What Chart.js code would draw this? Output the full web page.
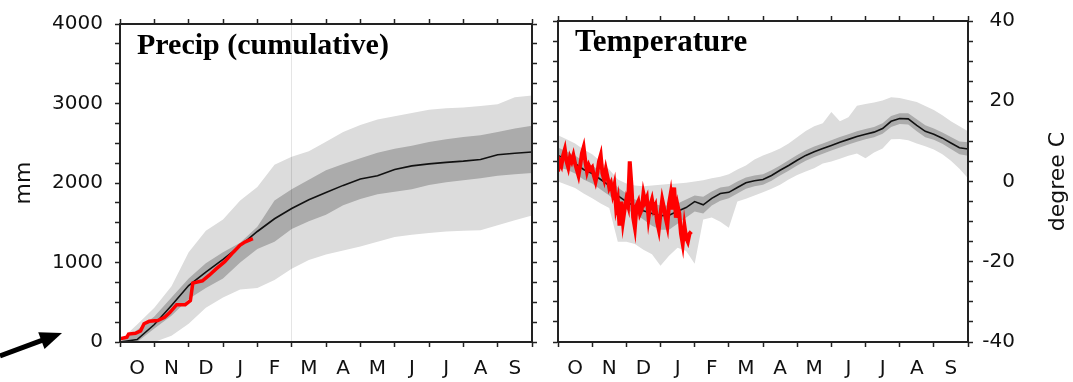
<!DOCTYPE html>
<html>
<head>
<meta charset="utf-8">
<script src="https://cdn.jsdelivr.net/npm/chart.js@4.4.1/dist/chart.umd.min.js"></script>
<style>
  html, body { margin: 0; padding: 0; background: #fff; }
  #wrap { position: relative; width: 1073px; height: 382px; }
  #box1 { position: absolute; left: 0; top: 0; }
  #box2 { position: absolute; left: 545px; top: 0; }
</style>
</head>
<body>
<div id="wrap">
  <div id="box1"><canvas id="chart1" width="545" height="382"></canvas></div>
  <div id="box2"><canvas id="chart2" width="528" height="382"></canvas></div>
</div>
<script>
// water year, months counted from 1 Oct (0) to 30 Sep (12)
const monthLabels = ['O', 'N', 'D', 'J', 'F', 'M', 'A', 'M', 'J', 'J', 'A', 'S'];
const monthTicks = [0, 0.5, 1, 1.5, 2, 2.5, 3, 3.5, 4, 4.5, 5, 5.5, 6, 6.5, 7, 7.5, 8, 8.5, 9, 9.5, 10, 10.5, 11, 11.5, 12];

// ---- precip (cumulative, mm) ----
const precipMonths = [0, 0.5, 1, 1.5, 2, 2.5, 3, 3.5, 4, 4.5, 5, 5.5, 6, 6.5, 7, 7.5, 8, 8.5, 9, 9.5, 10, 10.5, 11, 11.5, 12];
const precipLightUpper = [20, 220, 430, 700, 1130, 1400, 1540, 1780, 1950, 2230, 2330, 2400, 2520, 2640, 2730, 2800, 2840, 2880, 2920, 2940, 2950, 2970, 2990, 3080, 3100];
const precipDarkUpper = [0, 150, 320, 560, 800, 990, 1130, 1250, 1450, 1780, 1920, 2040, 2160, 2240, 2310, 2380, 2430, 2470, 2515, 2550, 2580, 2600, 2640, 2685, 2720];
const precipMean = [0, 30, 220, 460, 710, 880, 1040, 1210, 1390, 1550, 1680, 1790, 1880, 1970, 2050, 2090, 2170, 2215, 2240, 2260, 2275, 2295, 2355, 2375, 2390];
const precipDarkLower = [0, 0, 170, 330, 540, 680, 800, 1000, 1170, 1260, 1420, 1520, 1600, 1720, 1800, 1860, 1890, 1920, 1975, 2010, 2035, 2060, 2090, 2110, 2125];
const precipLightLower = [0, 0, 0, 80, 230, 430, 560, 660, 680, 780, 920, 1030, 1100, 1150, 1200, 1260, 1320, 1350, 1370, 1390, 1400, 1405, 1470, 1530, 1590];
const obsPrecipMonths = [0, 0.2, 0.25, 0.45, 0.6, 0.7, 0.85, 1.1, 1.3, 1.45, 1.65, 1.9, 2.05, 2.12, 2.4, 2.6, 2.8, 3.05, 3.3, 3.5, 3.65, 3.87];
const obsPrecip = [40, 60, 100, 110, 140, 230, 260, 270, 310, 370, 470, 470, 520, 740, 770, 840, 920, 1010, 1130, 1220, 1260, 1300];

// ---- temperature (degree C) ----
const tempMonths = [0, 0.25, 0.5, 0.75, 1, 1.25, 1.5, 1.75, 2, 2.25, 2.5, 2.75, 3, 3.25, 3.5, 3.75, 4, 4.25, 4.5, 4.75, 5, 5.25, 5.5, 5.75, 6, 6.25, 6.5, 6.75, 7, 7.25, 7.5, 7.75, 8, 8.25, 8.5, 8.75, 9, 9.25, 9.5, 9.75, 10, 10.25, 10.5, 10.75, 11, 11.25, 11.5, 11.75, 12];
const tempLightUpper = [11.5, 10.5, 9.5, 8.0, 6.8, 5.0, 3.0, 0.5, -0.5, -1.0, -1.2, -1.0, -0.8, -0.6, -0.5, -0.3, 0, 0.3, 0.8, 1.2, 1.8, 3.0, 4.0, 5.5, 6.5, 7.3, 8.2, 9.5, 11.0, 12.6, 13.8, 14.5, 17.3, 15.0, 16.0, 18.9, 19.3, 19.7, 20.2, 21.0, 20.8, 20.3, 19.8, 18.8, 17.8, 16.5, 15.0, 13.8, 12.5];
const tempDarkUpper = [8.5, 7.5, 6.5, 5.0, 4.0, 2.5, 1.0, -1.5, -3.0, -4.5, -5.0, -5.5, -6.0, -6.0, -5.5, -4.5, -3.5, -3.8, -2.5, -1.5, -1.2, 0, 1.0, 1.5, 1.8, 2.8, 4.0, 5.3, 6.6, 7.8, 8.7, 9.5, 10.3, 11.1, 11.8, 12.5, 13.1, 13.6, 14.5, 16.3, 17.0, 17.0, 15.5, 14.0, 13.2, 12.2, 11.1, 10.0, 9.8];
const tempMean = [6.5, 5.5, 4.5, 3.0, 2.0, 0.5, -1.0, -3.5, -5.0, -6.2, -7.3, -8.0, -8.5, -8.4, -7.4, -6.5, -5.0, -5.8, -4.2, -3.0, -2.7, -1.5, -0.3, 0.2, 0.5, 1.5, 2.8, 4.0, 5.3, 6.5, 7.4, 8.2, 9.0, 9.8, 10.5, 11.2, 11.8, 12.3, 13.2, 15.0, 15.7, 15.6, 14.0, 12.5, 11.8, 10.8, 9.6, 8.4, 8.1];
const tempDarkLower = [3.5, 3.0, 2.0, 0.5, -0.5, -2.0, -3.5, -5.5, -7.0, -8.0, -9.5, -11.0, -12.0, -12.0, -10.5, -9.0, -7.5, -8.0, -6.0, -4.8, -4.2, -3.0, -1.8, -1.2, -0.8, 0.2, 1.5, 2.7, 4.0, 5.2, 6.1, 6.9, 7.7, 8.5, 9.2, 9.9, 10.5, 11.0, 11.9, 13.6, 14.3, 14.2, 12.5, 11.0, 10.4, 9.4, 8.1, 6.8, 6.4];
const tempLightLower = [0, -0.8, -1.6, -3.0, -4.2, -5.5, -6.6, -15.0, -15.0, -15.6, -17.0, -18.1, -21.0, -18.5, -16.5, -17.3, -20.5, -9.5, -9.0, -10.0, -11.5, -5.0, -4.3, -3.5, -2.7, -1.8, -0.8, 0.5, 1.6, 2.5, 3.3, 4.5, 5.0, 5.7, 6.4, 7.0, 5.8, 7.2, 8.2, 10.5, 10.6, 10.3, 9.5, 8.8, 8.0, 6.8, 5.2, 3.2, 0.8];
// observed this year, one value every 0.05 month (about 1.5 days)
const obsTemp = [2.5, 5.0, 4.0, 6.5, 8.0, 5.0, 3.5, 6.0, 5.0, 6.5,
  4.5, 3.0, 1.5, 4.0, 7.0, 8.5, 5.0, 2.5, 4.0, 3.0,
  3.5, 1.5, 0.0, 2.0, 5.0, 6.5, 2.0, 0.5, 3.0, 1.0,
  -1.5, -0.5, -3.0, -1.0, -6.5, -4.5, -11.0, -5.0, -10.0, -7.0,
  -4.5, -6.0, 5.0, -1.0, -9.0, -11.5, -6.0, -5.0, -8.0, -7.0,
  -3.0, -5.0, -4.0, -9.0, -6.0, -4.5, -7.0, -6.0, -10.0, -12.0,
  -8.0, -4.5, -6.5, -9.0, -11.0, -5.5, -3.0, -7.0, -1.5, -9.0,
  -6.0, -8.0, -13.0, -15.5, -11.0, -14.0, -15.0, -13.0, -12.5];
const obsTempMonths = obsTemp.map((_, i) => i * 0.05);

const lightGrey = '#dcdcdc';
const darkGrey = '#ababab';
const frameColor = '#222';
const textColor = '#111';
const sans = "'DejaVu Sans', sans-serif";

function pts(xs, ys) {
  return xs.map((x, i) => ({ x: x, y: ys[i] }));
}

function band(xs, ys, color, order, fill) {
  return {
    data: pts(xs, ys),
    borderWidth: 0,
    pointRadius: 0,
    backgroundColor: color,
    fill: fill ? '+1' : false,
    order: order,
  };
}

function line(xs, ys, color, width, order) {
  return {
    data: pts(xs, ys),
    borderColor: color,
    borderWidth: width,
    pointRadius: 0,
    fill: false,
    order: order,
  };
}

const tickColorFn = ctx => (Number.isInteger(ctx.tick.value) ? frameColor : 'rgba(0,0,0,0)');

function monthAxis(position, showLabels, markMonth) {
  return {
    type: 'linear',
    position: position,
    min: 0,
    max: 12,
    afterBuildTicks: scale => {
      scale.ticks = monthTicks.map(v => ({ value: v }));
    },
    afterFit: scale => {
      scale.height = showLabels ? 40 : 5;
    },
    border: { display: true, color: frameColor, width: 2, z: 2 },
    grid: {
      drawOnChartArea: markMonth !== undefined,
      color: ctx => (ctx.tick.value === markMonth ? 'rgba(0,0,0,0.1)' : 'rgba(0,0,0,0)'),
      borderDash: [2, 3],
      dash: [2, 3],
      lineWidth: 1,
      z: 1,
      tickLength: 5,
      tickWidth: 1.5,
      tickColor: tickColorFn,
    },
    ticks: {
      display: showLabels,
      autoSkip: false,
      maxRotation: 0,
      padding: 10,
      color: textColor,
      font: { family: sans, size: 20 },
      callback: v => (v % 1 === 0.5 ? monthLabels[Math.floor(v)] : ''),
    },
  };
}

function valueAxis(position, min, max, step, major, width, labels, padding) {
  return {
    type: 'linear',
    position: position,
    min: min,
    max: max,
    afterFit: scale => {
      scale.width = width;
    },
    border: { display: true, color: frameColor, width: 2, z: 2 },
    grid: { drawOnChartArea: false, tickLength: 5, tickWidth: 1.5, tickColor: frameColor },
    ticks: {
      display: labels,
      stepSize: step,
      autoSkip: false,
      padding: padding,
      crossAlign: position === 'right' ? 'far' : 'near',
      color: textColor,
      font: { family: sans, size: 20 },
      callback: v => (v % major === 0 ? String(v) : ''),
    },
  };
}

const panelText = {
  id: 'panelText',
  afterDraw(chart, args, opts) {
    const { ctx, chartArea } = chart;
    ctx.save();
    ctx.fillStyle = '#000';
    ctx.font = 'bold ' + opts.titleSize + "px 'Liberation Serif', serif";
    ctx.textAlign = 'left';
    ctx.textBaseline = 'alphabetic';
    ctx.fillText(opts.title, chartArea.left + 17, chartArea.top + 30);

    ctx.font = '22px ' + sans;
    ctx.fillStyle = textColor;
    ctx.translate(opts.axisTitleX, (chartArea.top + chartArea.bottom) / 2);
    ctx.rotate(-Math.PI / 2);
    ctx.textAlign = 'center';
    ctx.textBaseline = 'middle';
    ctx.fillText(opts.axisTitle, 0, 0);
    ctx.restore();

    if (opts.arrow) {
      // pointer arrow at the lower left corner
      const tail = { x: 0, y: 356 };
      const tip = { x: 62, y: 333 };
      const len = Math.hypot(tip.x - tail.x, tip.y - tail.y);
      const dx = (tip.x - tail.x) / len;
      const dy = (tip.y - tail.y) / len;
      const head = 22;
      const half = 9;
      const bx = tip.x - dx * head;
      const by = tip.y - dy * head;
      ctx.save();
      ctx.strokeStyle = '#000';
      ctx.fillStyle = '#000';
      ctx.lineWidth = 5;
      ctx.beginPath();
      ctx.moveTo(tail.x, tail.y);
      ctx.lineTo(bx + dx * 2, by + dy * 2);
      ctx.stroke();
      ctx.beginPath();
      ctx.moveTo(tip.x, tip.y);
      ctx.lineTo(bx - dy * half, by + dx * half);
      ctx.lineTo(bx + dy * half, by - dx * half);
      ctx.closePath();
      ctx.fill();
      ctx.restore();
    }
  },
};

const commonOptions = {
  responsive: false,
  animation: false,
  elements: { line: { tension: 0 } },
};

new Chart(document.getElementById('chart1'), {
  type: 'line',
  data: {
    datasets: [
      band(precipMonths, precipLightUpper, lightGrey, 4, true),
      band(precipMonths, precipLightLower, lightGrey, 4, false),
      band(precipMonths, precipDarkUpper, darkGrey, 3, true),
      band(precipMonths, precipDarkLower, darkGrey, 3, false),
      line(precipMonths, precipMean, '#111', 1.6, 2),
      line(obsPrecipMonths, obsPrecip, '#ff0000', 3.5, 1),
    ],
  },
  options: {
    ...commonOptions,
    layout: { padding: { top: 13, right: 8, bottom: 0, left: 0 } },
    scales: {
      x: monthAxis('bottom', true),
      x2: monthAxis('top', false, 5),
      y: valueAxis('left', 0, 4000, 250, 1000, 120, true, 12),
      y2: valueAxis('right', 0, 4000, 250, 1000, 5, false, 0),
    },
    plugins: {
      legend: { display: false },
      tooltip: { enabled: false },
      panelText: { title: 'Precip (cumulative)', titleSize: 30, axisTitle: 'mm', axisTitleX: 24, arrow: true },
    },
  },
  plugins: [panelText],
});

new Chart(document.getElementById('chart2'), {
  type: 'line',
  data: {
    datasets: [
      band(tempMonths, tempLightUpper, lightGrey, 4, true),
      band(tempMonths, tempLightLower, lightGrey, 4, false),
      band(tempMonths, tempDarkUpper, darkGrey, 3, true),
      band(tempMonths, tempDarkLower, darkGrey, 3, false),
      line(tempMonths, tempMean, '#111', 1.6, 2),
      line(obsTempMonths, obsTemp, '#ff0000', 4, 1),
    ],
  },
  options: {
    ...commonOptions,
    layout: { padding: { top: 13, right: 58, bottom: 0, left: 0 } },
    scales: {
      x: monthAxis('bottom', true),
      x2: monthAxis('top', false),
      y: valueAxis('left', -40, 40, 5, 20, 13, false, 0),
      y2: valueAxis('right', -40, 40, 5, 20, 47, true, 9),
    },
    plugins: {
      legend: { display: false },
      tooltip: { enabled: false },
      panelText: { title: 'Temperature', titleSize: 31, axisTitle: 'degree C', axisTitleX: 513 },
    },
  },
  plugins: [panelText],
});
</script>
</body>
</html>
